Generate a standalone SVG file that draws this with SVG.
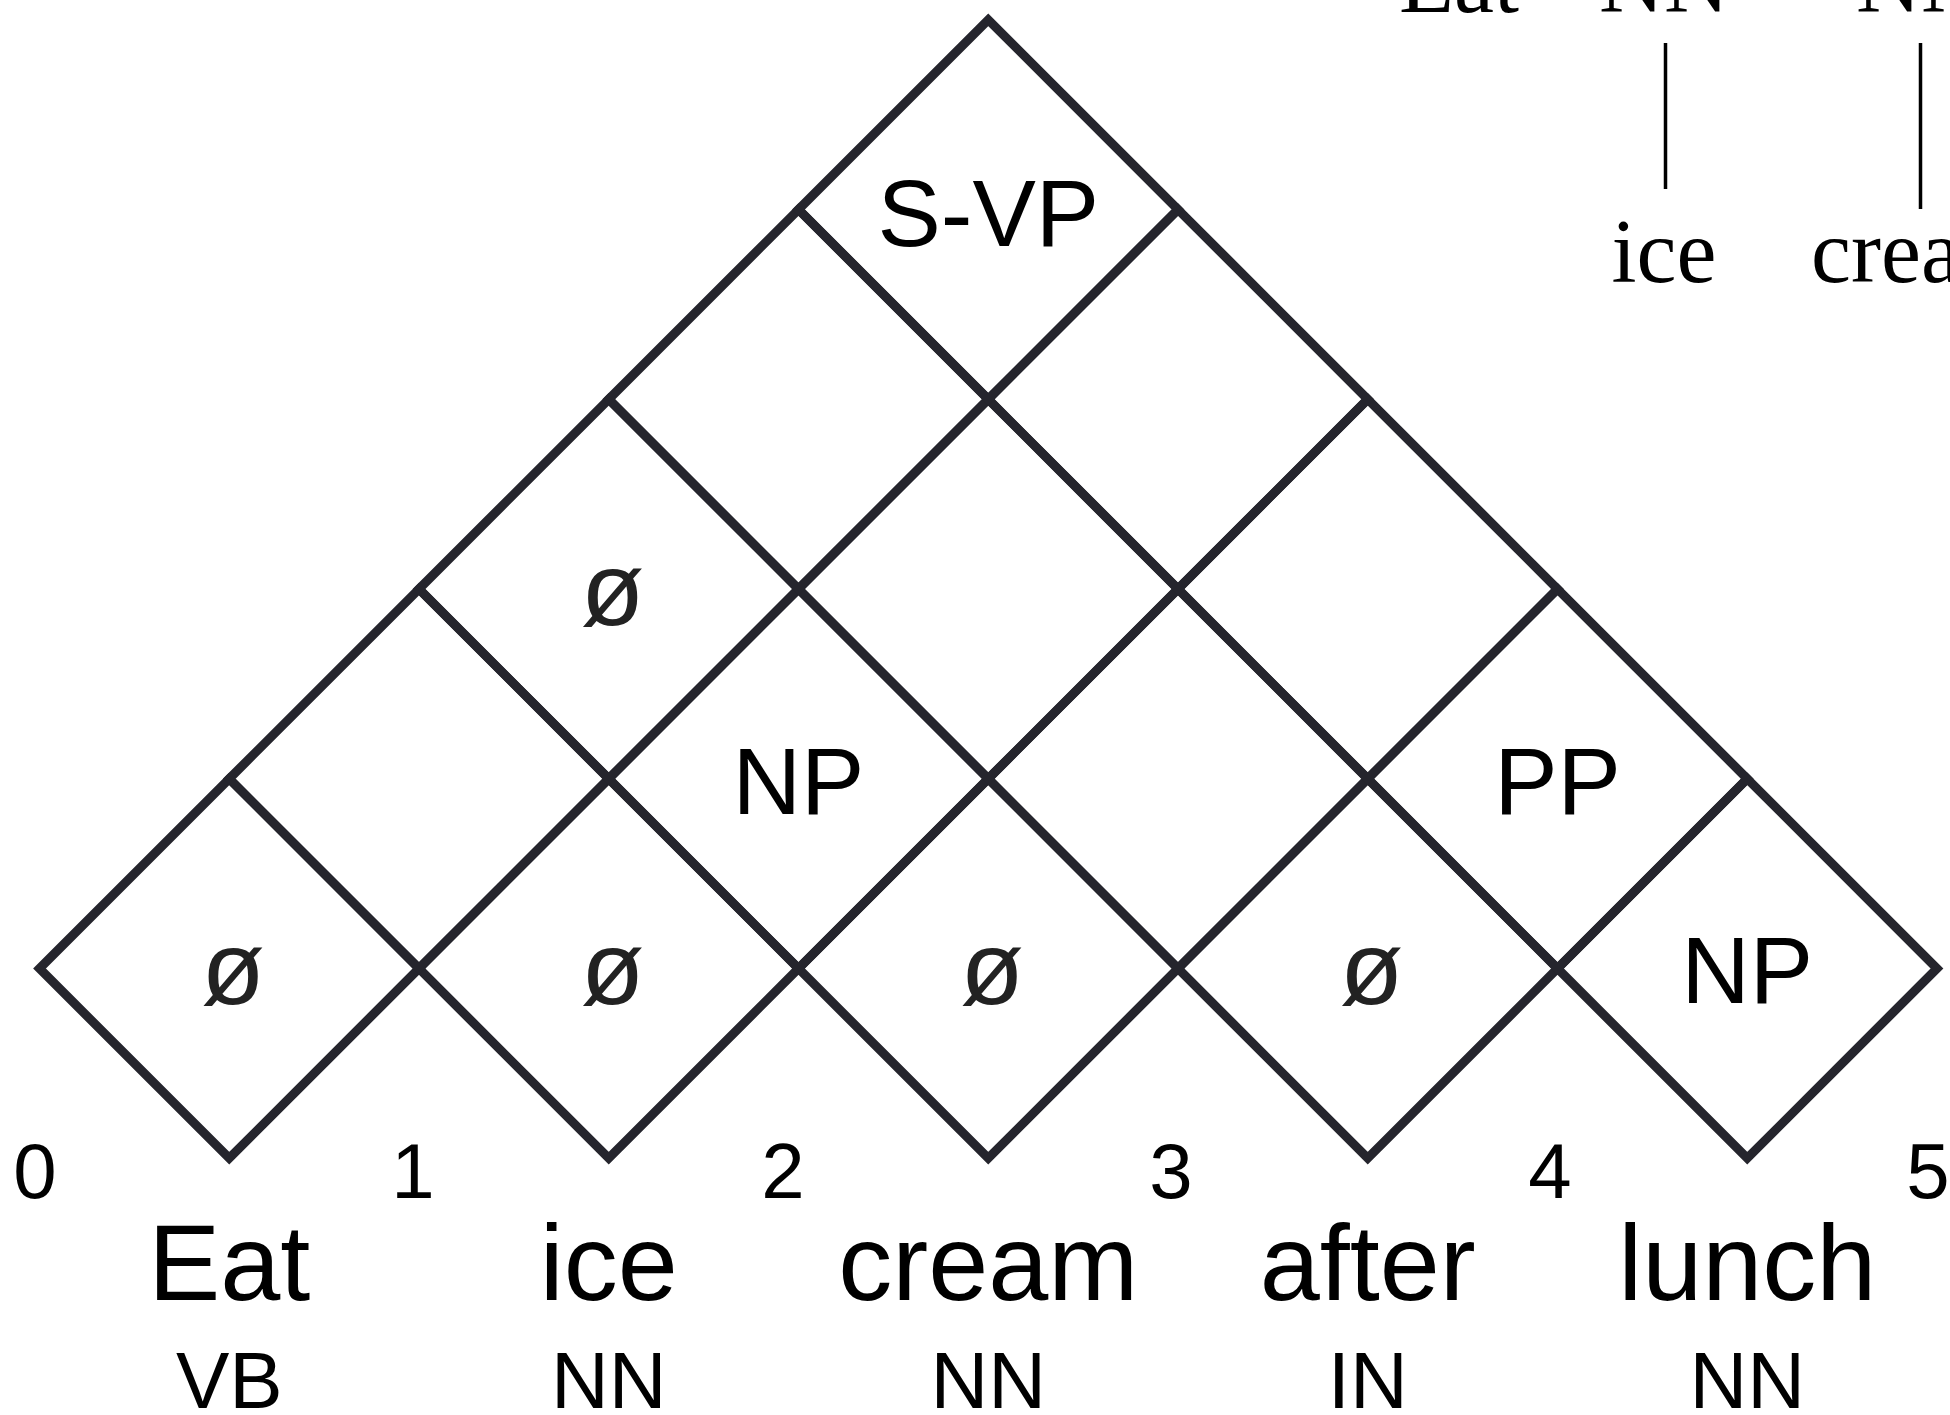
<svg xmlns="http://www.w3.org/2000/svg" xmlns:xlink="http://www.w3.org/1999/xlink" width="1950" height="1415" viewBox="0 0 1950 1415">
  <style>
    .grid { fill: none; stroke: #25252d; stroke-width: 9; stroke-linejoin: miter; stroke-miterlimit: 10; }
    .lbl { font-family: "Liberation Sans", Arial, Helvetica, sans-serif; font-size: 95px; fill: #000; text-anchor: middle; }
    .nil { font-family: "Liberation Sans", Arial, Helvetica, sans-serif; font-size: 104px; fill: #222; text-anchor: middle; }
    .idx { font-family: "Liberation Sans", Arial, Helvetica, sans-serif; font-size: 78px; fill: #000; text-anchor: middle; }
    .word { font-family: "Liberation Sans", Arial, Helvetica, sans-serif; font-size: 108px; fill: #000; text-anchor: middle; }
    .tag { font-family: "Liberation Sans", Arial, Helvetica, sans-serif; font-size: 80px; fill: #000; text-anchor: middle; }
    .tree { font-family: "Liberation Serif", "Times New Roman", serif; font-size: 90px; fill: #000; text-anchor: middle; }
    .branch { stroke: #000; stroke-width: 3.5; }
  </style>
  <defs>
    <!-- one chart cell: a diamond with half-diagonal 189.75 -->
    <path id="cell" d="M-189.75 0 L0 -189.75 L189.75 0 L0 189.75 Z"/>
  </defs>
  <rect width="1950" height="1415" fill="#fff"/>

  <!-- chart cells, span (i,j) -->
  <g id="cell-0-1"><use xlink:href="#cell" class="grid" x="229.25" y="968.5"/><text class="nil" x="233" y="1004">ø</text></g>
  <g id="cell-1-2"><use xlink:href="#cell" class="grid" x="608.75" y="968.5"/><text class="nil" x="612.5" y="1004">ø</text></g>
  <g id="cell-2-3"><use xlink:href="#cell" class="grid" x="988.25" y="968.5"/><text class="nil" x="992" y="1004">ø</text></g>
  <g id="cell-3-4"><use xlink:href="#cell" class="grid" x="1367.75" y="968.5"/><text class="nil" x="1371.5" y="1004">ø</text></g>
  <g id="cell-4-5"><use xlink:href="#cell" class="grid" x="1747.25" y="968.5"/><text class="lbl" x="1747.25" y="1003">NP</text></g>

  <g id="cell-0-2"><use xlink:href="#cell" class="grid" x="419" y="778.75"/></g>
  <g id="cell-1-3"><use xlink:href="#cell" class="grid" x="798.5" y="778.75"/><text class="lbl" x="798.5" y="813.5">NP</text></g>
  <g id="cell-2-4"><use xlink:href="#cell" class="grid" x="1178" y="778.75"/></g>
  <g id="cell-3-5"><use xlink:href="#cell" class="grid" x="1557.5" y="778.75"/><text class="lbl" x="1557.5" y="813.5">PP</text></g>

  <g id="cell-0-3"><use xlink:href="#cell" class="grid" x="608.75" y="589"/><text class="nil" x="612.5" y="624.5">ø</text></g>
  <g id="cell-1-4"><use xlink:href="#cell" class="grid" x="988.25" y="589"/></g>
  <g id="cell-2-5"><use xlink:href="#cell" class="grid" x="1367.75" y="589"/></g>

  <g id="cell-0-4"><use xlink:href="#cell" class="grid" x="798.5" y="399.25"/></g>
  <g id="cell-1-5"><use xlink:href="#cell" class="grid" x="1178" y="399.25"/></g>

  <g id="cell-0-5"><use xlink:href="#cell" class="grid" x="988.25" y="209.5"/><text class="lbl" x="988.25" y="246">S-VP</text></g>

  <!-- fencepost indices -->
  <g id="indices">
    <text class="idx" x="35" y="1198">0</text>
    <text class="idx" x="413" y="1198">1</text>
    <text class="idx" x="783" y="1198">2</text>
    <text class="idx" x="1171" y="1198">3</text>
    <text class="idx" x="1550" y="1198">4</text>
    <text class="idx" x="1928" y="1198">5</text>
  </g>

  <!-- sentence and part-of-speech tags -->
  <g id="words">
    <text class="word" x="229.25" y="1300">Eat</text>
    <text class="word" x="608.75" y="1300">ice</text>
    <text class="word" x="988.25" y="1300">cream</text>
    <text class="word" x="1367.75" y="1300">after</text>
    <text class="word" x="1747.25" y="1300">lunch</text>
  </g>
  <g id="tags">
    <text class="tag" x="229.25" y="1408">VB</text>
    <text class="tag" x="608.75" y="1408">NN</text>
    <text class="tag" x="988.25" y="1408">NN</text>
    <text class="tag" x="1367.75" y="1408">IN</text>
    <text class="tag" x="1747.25" y="1408">NN</text>
  </g>

  <!-- parse tree fragment, top right -->
  <g id="tree">
    <text class="tree" x="1459" y="12">Eat</text>
    <text class="tree" x="1664" y="12">NN</text>
    <text class="tree" x="1921" y="12">NN</text>
    <line class="branch" x1="1665.5" y1="43" x2="1665.5" y2="189"/>
    <line class="branch" x1="1920.5" y1="43" x2="1920.5" y2="209"/>
    <text class="tree" x="1664" y="282">ice</text>
    <text class="tree" x="1921" y="282">cream</text>
  </g>
</svg>
